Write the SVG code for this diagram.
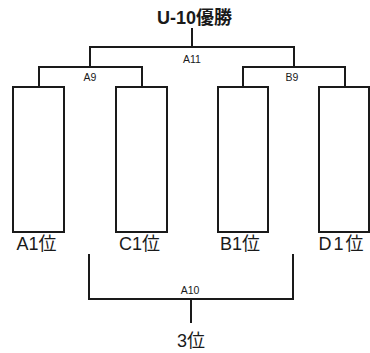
<svg xmlns="http://www.w3.org/2000/svg" width="370" height="353" viewBox="0 0 370 353">
<style>
.ln{fill:none;stroke:#1a1a1a;stroke-width:2}
.box{fill:#fff;stroke:#1a1a1a;stroke-width:2}
.big{font-family:"Liberation Sans","Noto Sans CJK JP",sans-serif;font-size:18px;fill:#1a1a1a;text-anchor:middle}
.sm{font-family:"Liberation Sans",sans-serif;font-size:10.5px;fill:#1a1a1a;text-anchor:middle}
</style>
<rect width="370" height="353" fill="#fff"/>
<g id="connectors">
<path class="ln" d="M192,28 V47 M90,68 V47 H294 V68"/>
<path class="ln" d="M39,87 V67 H142 V87"/>
<path class="ln" d="M243,87 V67 H345 V87"/>
<path class="ln" d="M89,254 V299 H293 V254 M191,299 V323"/>
</g>
<g id="title"><text class="big" x="194.5" y="24" font-size="19" font-weight="bold">U-10優勝</text></g>
<g id="A11"><text class="sm" x="192" y="63">A11</text></g>
<g id="A9"><text class="sm" x="90" y="81">A9</text></g>
<g id="B9"><text class="sm" x="292" y="81">B9</text></g>
<g id="A1"><rect class="box" x="13" y="87" width="51" height="145"/><text class="big" x="36.5" y="250">A1位</text></g>
<g id="C1"><rect class="box" x="116" y="87" width="51" height="145"/><text class="big" x="139.5" y="250">C1位</text></g>
<g id="B1"><rect class="box" x="218" y="87" width="50" height="145"/><text class="big" x="240" y="250">B1位</text></g>
<g id="D1"><rect class="box" x="319" y="87" width="50" height="145"/><text class="big" x="342" y="250" letter-spacing="2">D1位</text></g>
<g id="A10"><text class="sm" x="190" y="294">A10</text></g>
<g id="third"><text class="big" x="191" y="347">3位</text></g>
</svg>
